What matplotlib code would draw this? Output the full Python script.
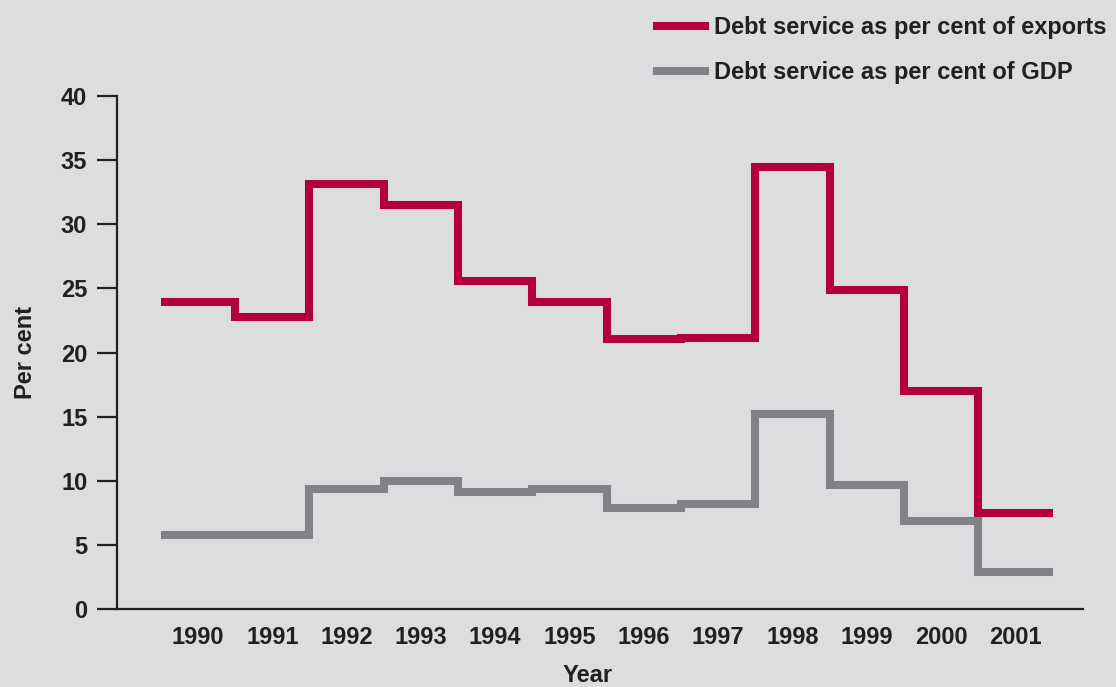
import numpy as np
import matplotlib.pyplot as plt

years = ['1990', '1991', '1992', '1993', '1994', '1995',
         '1996', '1997', '1998', '1999', '2000', '2001']
pct_exports = [23.9, 22.8, 33.1, 31.5, 25.6, 23.9, 21.05, 21.1, 34.5, 24.9, 17.0, 7.5]
pct_gdp = [5.8, 5.75, 9.35, 10.0, 9.1, 9.35, 7.9, 8.2, 15.2, 9.7, 6.9, 2.9]
yticks = [0, 5, 10, 15, 20, 25, 30, 35, 40]

bg = '#dcdddf'
red = '#b1003a'
grey = '#808285'
ink = '#231f20'

plt.rcParams['font.family'] = ['Liberation Sans', 'DejaVu Sans']
plt.rcParams['font.weight'] = 'bold'

fig = plt.figure(figsize=(11.16, 6.87), dpi=100, facecolor=bg)
ax = fig.add_axes([117/1116, 78/687, 966/1116, 513/687])
ax.set_facecolor(bg)

edges = np.arange(len(years) + 1) - 0.5
ax.stairs(pct_exports, edges, baseline=None, color=red, lw=5.8,
          joinstyle='miter', capstyle='butt',
          label='Debt service as per cent of exports')
ax.stairs(pct_gdp, edges, baseline=None, color=grey, lw=5.8,
          joinstyle='miter', capstyle='butt',
          label='Debt service as per cent of GDP')

ax.set_xlim(-1.09, 11.91)
ax.set_ylim(0, 40)
ax.set_yticks(yticks)
ax.set_xticks(np.arange(len(years)))
ax.set_xticklabels(years)

for s in ['top', 'right']:
    ax.spines[s].set_visible(False)
for s in ['left', 'bottom']:
    ax.spines[s].set_color(ink)
    ax.spines[s].set_linewidth(1.6)

ax.tick_params(axis='y', length=14.4, width=1.6, color=ink, pad=7,
               labelsize=17, labelcolor=ink)
ax.tick_params(axis='x', length=0, pad=12, labelsize=17, labelcolor=ink)

ax.set_ylabel('Per cent', fontsize=17, fontweight='bold', color=ink, labelpad=17)
fig.text(588/1116, 1 - 676/687, 'Year', fontsize=17, fontweight='bold',
         color=ink, ha='center', va='center')

leg = fig.legend(loc='upper left', bbox_to_anchor=(657/1116, 1 - 16/687),
                 frameon=False, fontsize=17, handlelength=2.03,
                 handletextpad=0.38, labelspacing=0.94, borderpad=0,
                 borderaxespad=0)
for t in leg.get_texts():
    t.set_color(ink)
    t.set_fontweight('bold')

fig.savefig('out.png', dpi=100, facecolor=bg)
